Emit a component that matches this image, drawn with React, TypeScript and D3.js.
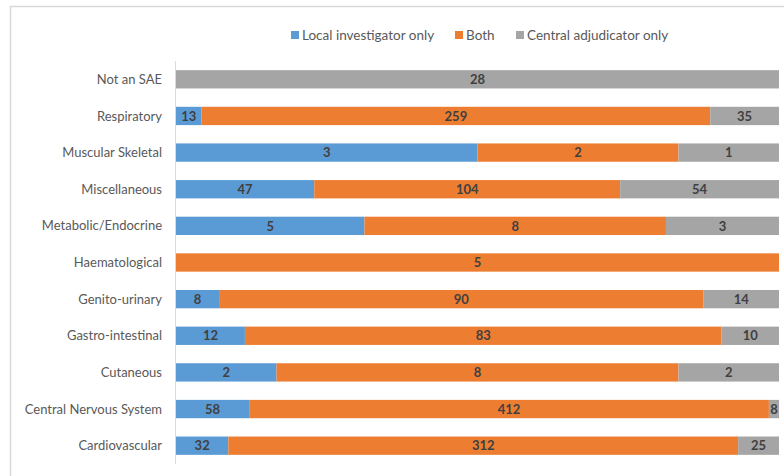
import React from "react";
import * as d3 from "d3";

const categories = [
  "Not an SAE",
  "Respiratory",
  "Muscular Skeletal",
  "Miscellaneous",
  "Metabolic/Endocrine",
  "Haematological",
  "Genito-urinary",
  "Gastro-intestinal",
  "Cutaneous",
  "Central Nervous System",
  "Cardiovascular",
];
const seriesNames = ["Local investigator only", "Both", "Central adjudicator only"];
const localOnly = [0, 13, 3, 47, 5, 0, 8, 12, 2, 58, 32];
const both = [0, 259, 2, 104, 8, 5, 90, 83, 8, 412, 312];
const centralOnly = [28, 35, 1, 54, 3, 0, 14, 10, 2, 8, 25];
const colors = ["#5B9BD5", "#ED7D31", "#A5A5A5"];

const W = 784;
const H = 476;
const FONT = "Lato, 'Open Sans', sans-serif";

export default function App() {
  const x = d3.scaleLinear().domain([0, 1]).range([176, 779]);
  const y = d3.scaleBand().domain(categories).range([61, 464]).paddingInner(0.5).paddingOuter(0.25);
  const seriesVals = [localOnly, both, centralOnly];

  const rows = categories.map((c, i) => {
    const vals = seriesVals.map((s) => s[i]);
    const total = d3.sum(vals);
    let acc = 0;
    const segs = vals.map((v, k) => {
      const x0 = acc / total;
      acc += v;
      return { v, k, x0, x1: acc / total };
    });
    return { c, segs };
  });

  const legendX = [291, 455, 516];

  return (
    <svg width={W} height={H} style={{ position: "absolute", left: 0, top: 0, background: "#fff" }}>
      <rect x={10.5} y={6.5} width={W} height={H} fill="#fff" stroke="#D9D9D9" strokeWidth={1.5} />
      {seriesNames.map((n, k) => (
        <g key={n}>
          <rect x={legendX[k]} y={31} width={8} height={8} fill={colors[k]} />
          <text x={legendX[k] + 11} y={39.5} fontFamily={FONT} fontSize={13.5} fill="#595959">
            {n}
          </text>
        </g>
      ))}
      {rows.map((r) => (
        <g key={r.c}>
          <text
            x={162}
            y={(y(r.c) as number) + y.bandwidth() / 2}
            dy="0.35em"
            textAnchor="end"
            fontFamily={FONT}
            fontSize={13}
            fill="#595959"
          >
            {r.c}
          </text>
          {r.segs.map((s) =>
            s.v > 0 ? (
              <g key={s.k}>
                <rect
                  x={x(s.x0)}
                  y={y(r.c)}
                  width={x(s.x1) - x(s.x0)}
                  height={y.bandwidth()}
                  fill={colors[s.k]}
                />
                <text
                  x={(x(s.x0) + x(s.x1)) / 2}
                  y={(y(r.c) as number) + y.bandwidth() / 2}
                  dy="0.36em"
                  textAnchor="middle"
                  fontFamily={FONT}
                  fontWeight="bold"
                  fontSize={13}
                  fill="#404040"
                >
                  {s.v}
                </text>
              </g>
            ) : null
          )}
        </g>
      ))}
      <line x1={175.5} x2={175.5} y1={61} y2={464} stroke="#D9D9D9" strokeWidth={1} />
    </svg>
  );
}
